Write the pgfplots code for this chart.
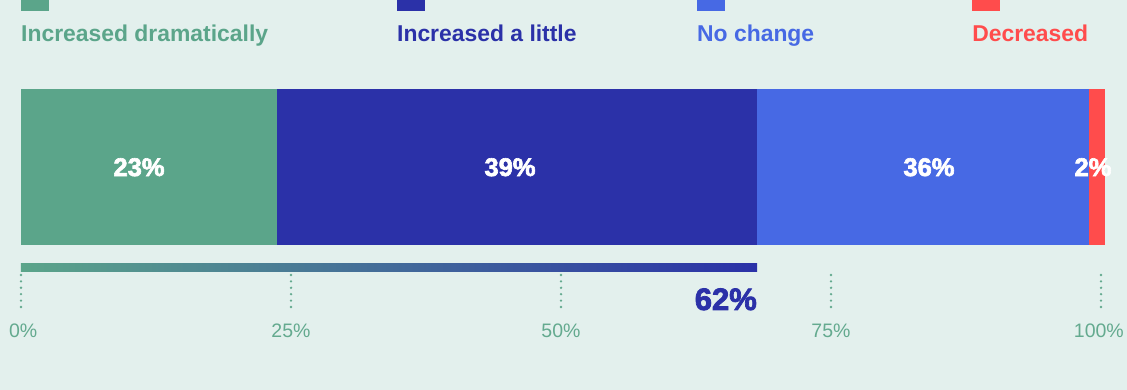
\documentclass[border=0pt]{standalone}
\usepackage{pgfplots}
\pgfplotsset{compat=1.18}
\usepackage{fontspec}
\setmainfont{Liberation Sans}
\newfontfamily\heavy{Liberation Sans Bold}[FakeBold=2.5]
\definecolor{bg}{HTML}{E3F0ED}
\definecolor{cgreen}{HTML}{5BA58A}
\definecolor{cdark}{HTML}{2B31A8}
\definecolor{cblue}{HTML}{4769E4}
\definecolor{cred}{HTML}{FF4C4C}
\definecolor{ctick}{HTML}{64AA8F}
\begin{document}
\begin{tikzpicture}
\useasboundingbox (0,0) rectangle (1127bp,390bp);
\fill[bg] (0,0) rectangle (1127bp,390bp);
\begin{axis}[
  at={(0,0)}, anchor=south west,
  width=1127bp, height=390bp, scale only axis,
  xmin=-1.9444, xmax=102.4074, ymin=-390, ymax=0,
  hide axis, clip=false,
  xbar stacked, bar width=156,
]
\addplot[fill=cgreen, draw=none] coordinates {(23.70,-167)};
\addplot[fill=cdark, draw=none] coordinates {(44.45,-167)};
\addplot[fill=cblue, draw=none] coordinates {(30.74,-167)};
\addplot[fill=cred, draw=none] coordinates {(1.48,-167)};
% label anchors
\coordinate (l1) at (axis cs:10.93,-176);
\coordinate (l2) at (axis cs:45.28,-176);
\coordinate (l3) at (axis cs:84.07,-176);
\coordinate (l4) at (axis cs:99.26,-176);
% legend
\fill[cgreen] (axis cs:0,0) rectangle (axis cs:2.59,-11);
\fill[cdark] (axis cs:34.81,0) rectangle (axis cs:37.41,-11);
\fill[cblue] (axis cs:62.59,0) rectangle (axis cs:65.19,-11);
\fill[cred] (axis cs:88.06,0) rectangle (axis cs:90.65,-11);
\node[anchor=base west, inner sep=0pt, text=cgreen, font=\bfseries\fontsize{22.9bp}{26bp}\selectfont] at (axis cs:0,-42) {Increased dramatically};
\node[anchor=base west, inner sep=0pt, text=cdark, font=\bfseries\fontsize{22.9bp}{26bp}\selectfont] at (axis cs:34.81,-42) {Increased a little};
\node[anchor=base west, inner sep=0pt, text=cblue, font=\bfseries\fontsize{22.9bp}{26bp}\selectfont] at (axis cs:62.59,-42) {No change};
\node[anchor=base west, inner sep=0pt, text=cred, font=\bfseries\fontsize{22.9bp}{26bp}\selectfont] at (axis cs:88.06,-42) {Decreased};
% gradient summary bar
\shade[left color=cgreen, right color=cdark] (axis cs:0,-264) rectangle (axis cs:68.15,-271.5);
\node[anchor=base east, inner sep=0pt, text=cdark, font=\heavy\fontsize{31bp}{34bp}\selectfont] at (axis cs:68.15,-310) {62\%};
% dotted ticks and labels
\draw[ctick, line width=2.6bp, line cap=round, dash pattern=on 0pt off 6.4bp] (axis cs:0,-275) -- (axis cs:0,-308);
\draw[ctick, line width=2.6bp, line cap=round, dash pattern=on 0pt off 6.4bp] (axis cs:25,-275) -- (axis cs:25,-308);
\draw[ctick, line width=2.6bp, line cap=round, dash pattern=on 0pt off 6.4bp] (axis cs:50,-275) -- (axis cs:50,-308);
\draw[ctick, line width=2.6bp, line cap=round, dash pattern=on 0pt off 6.4bp] (axis cs:75,-275) -- (axis cs:75,-308);
\draw[ctick, line width=2.6bp, line cap=round, dash pattern=on 0pt off 6.4bp] (axis cs:100,-275) -- (axis cs:100,-308);
\node[anchor=base, inner sep=0pt, text=ctick, font=\fontsize{19.5bp}{23bp}\selectfont] at (axis cs:0.2,-338) {0\%};
\node[anchor=base, inner sep=0pt, text=ctick, font=\fontsize{19.5bp}{23bp}\selectfont] at (axis cs:25,-338) {25\%};
\node[anchor=base, inner sep=0pt, text=ctick, font=\fontsize{19.5bp}{23bp}\selectfont] at (axis cs:50,-338) {50\%};
\node[anchor=base, inner sep=0pt, text=ctick, font=\fontsize{19.5bp}{23bp}\selectfont] at (axis cs:75,-338) {75\%};
\node[anchor=base, inner sep=0pt, text=ctick, font=\fontsize{19.5bp}{23bp}\selectfont] at (axis cs:99.8,-338) {100\%};
\end{axis}
\node[anchor=base, inner sep=0pt, text=white, font=\heavy\fontsize{25.5bp}{28bp}\selectfont] at (l1) {23\%};
\node[anchor=base, inner sep=0pt, text=white, font=\heavy\fontsize{25.5bp}{28bp}\selectfont] at (l2) {39\%};
\node[anchor=base, inner sep=0pt, text=white, font=\heavy\fontsize{25.5bp}{28bp}\selectfont] at (l3) {36\%};
\node[anchor=base, inner sep=0pt, text=white, font=\heavy\fontsize{25.5bp}{28bp}\selectfont] at (l4) {2\%};
\end{tikzpicture}
\end{document}
